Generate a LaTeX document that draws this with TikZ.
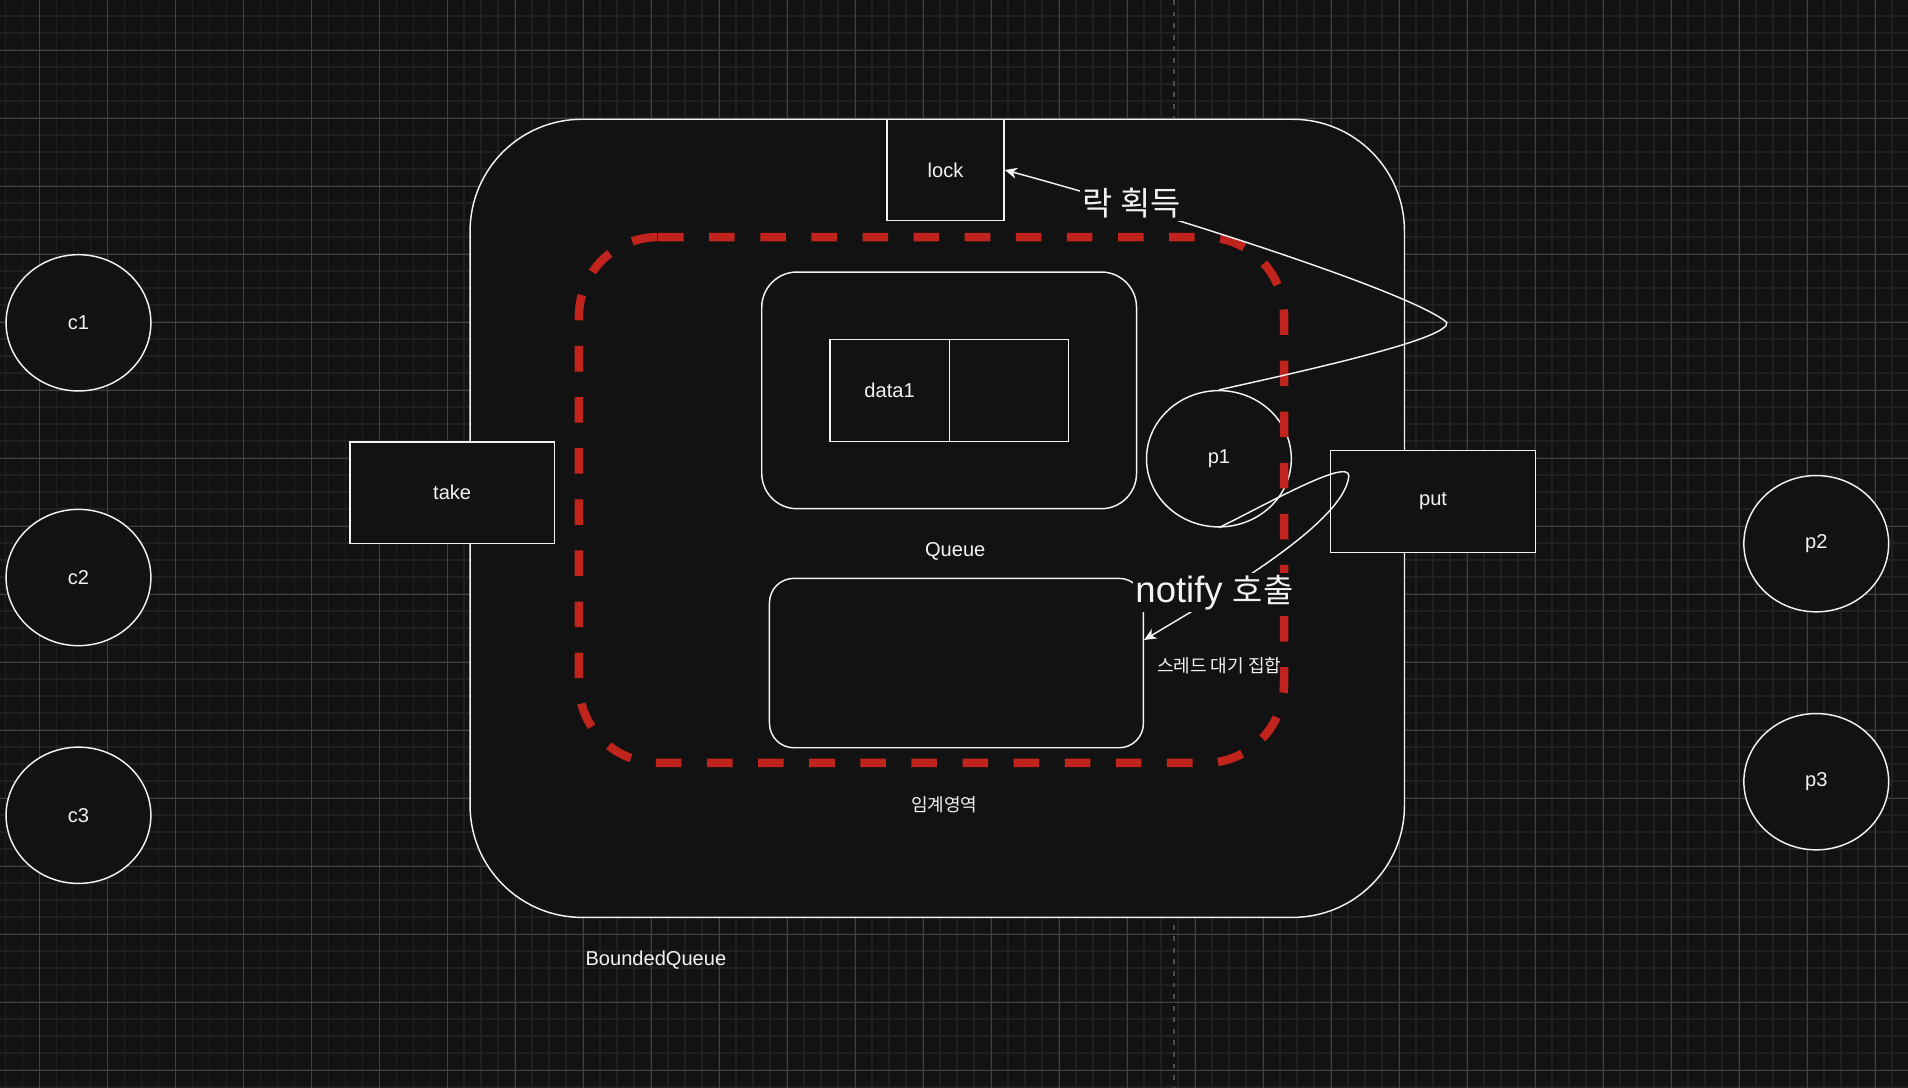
\documentclass[tikz,border=0pt]{standalone}
\usepackage{fontspec}
\setmainfont{Liberation Sans}
\newfontfamily\kr[Scale=0.9]{Noto Sans CJK KR}
\usetikzlibrary{arrows.meta,shapes.geometric}

\definecolor{bg}{HTML}{121212}
\definecolor{fg}{HTML}{F2F2F2}
\definecolor{minorgrid}{HTML}{202020}
\definecolor{majorgrid}{HTML}{404040}
\definecolor{pageline}{HTML}{4D4D4D}
\definecolor{critred}{RGB}{192,36,28}

\newcommand{\txtsmall}{\fontsize{16.5}{19}\selectfont}
\newcommand{\txtbig}{\fontsize{30}{34}\selectfont}

\begin{document}
\begin{tikzpicture}[x=1pt,y=-1pt]

\tikzset{
  BoxStyle/.style = { rectangle, draw = fg, fill = bg, line width = 1.2pt,
                      inner sep = 0pt, text = fg, font = \txtsmall },
  RoundStyle/.style = { BoxStyle, rounded corners = #1 },
  ThreadStyle/.style = { ellipse, draw = fg, fill = bg, line width = 1.2pt,
                         minimum width = 119pt, minimum height = 112pt,
                         inner sep = 0pt, text = fg, font = \txtsmall },
  LabelStyle/.style = { text = fg, font = \txtsmall, inner sep = 1pt },
  BigLabelStyle/.style = { text = fg, font = \txtbig, fill = bg, inner sep = 2pt },
  EdgeStyle/.style = { draw = fg, line width = 1.2pt,
                       -{Stealth[length = 10pt, width = 9pt, inset = 3pt]} },
  RegionStyle/.style = { draw = critred, line width = 7pt,
                         dash pattern = on 21pt off 21pt,
                         rounded corners = 65pt }
}

\useasboundingbox (0,0) rectangle (1568,894);
\fill[bg] (0,0) rectangle (1568,894);

% grid
\begin{scope}
  \clip (0,0) rectangle (1568,894);
  \begin{scope}[shift={(4.36,13.15)}]
    \draw[minorgrid, line width = 1.3pt, step = 13.97pt] (-20,900) grid (1580,-20);
  \end{scope}
  \begin{scope}[shift={(32.3,41.1)}]
    \draw[majorgrid, line width = 0.8pt, step = 55.89pt] (-60,900) grid (1580,-60);
  \end{scope}
  \draw[pageline, line width = 1.6pt, dash pattern = on 4pt off 5.5pt] (964.8,0) -- (964.8,894);
\end{scope}

% BoundedQueue
\node[RoundStyle = 92pt, minimum width = 767.9pt, minimum height = 655.9pt] (bq) at (770.25, 425.95) {};
\node[BoxStyle, minimum width = 96.3pt, minimum height = 83.4pt] (lock) at (777, 139.7) {lock};
\node[BoxStyle, minimum width = 168pt, minimum height = 83.3pt] (take) at (371.6, 404.9) {take};
\node[BoxStyle, minimum width = 168.2pt, minimum height = 83.8pt] (put) at (1177.7, 412) {put};

\node[RoundStyle = 29pt, minimum width = 308pt, minimum height = 194.5pt] (queue) at (780, 320.8) {};
\node[BoxStyle, minimum width = 98.1pt, minimum height = 84.1pt] (data1) at (731.05, 320.95) {data1};
\node[BoxStyle, minimum width = 98.1pt, minimum height = 84.1pt] (slot2) at (829.15, 320.95) {};
\node[LabelStyle] (queuename) at (785, 453.5) {Queue};

\node[RoundStyle = 20pt, minimum width = 307.3pt, minimum height = 139.2pt] (waitset) at (786, 544.9) {};
\node[LabelStyle] (waitname) at (1002, 547) {\kr 스레드 대기 집합};

\node[ThreadStyle] (p1) at (1001.7, 377) {p1};

% critical section
\draw[RegionStyle] (540.8,194.8) -- (1055.2,194.8) -- (1055.2,627) -- (475.8,627)
  -- (475.8,194.8) -- (540.8,194.8);
\node[LabelStyle] (critname) at (776, 661.5) {\kr 임계영역};
\node[LabelStyle] (bqname) at (539, 789) {BoundedQueue};

% consumers and producers
\node[ThreadStyle] (c1) at (64.5, 265.3) {c1};
\node[ThreadStyle] (c2) at (64.5, 474.6) {c2};
\node[ThreadStyle] (c3) at (64.5, 670) {c3};
\node[ThreadStyle] (p2) at (1492.6, 446.8) {p2};
\node[ThreadStyle] (p3) at (1492.6, 642.4) {p3};

% p1 -> lock, p1 -> wait set
\coordinate (turn1) at (1189, 265);
\coordinate (turn2) at (1108.5, 391);
\draw[EdgeStyle] (p1.north) .. controls (1080,303) and (1192,278) .. (turn1)
  .. controls (1160,240) and (956,175) .. (lock.east);
\draw[EdgeStyle] (p1.south) .. controls (1040,415) and (1108,376) .. (turn2)
  .. controls (1105,430) and (1000,490) .. ([yshift=19pt]waitset.east);

\node[BigLabelStyle] (lockmsg) at (930, 167.3) {\kr 락 획득};
\node[BigLabelStyle] (notifymsg) at (998, 487) {notify {\kr 호출}};

\end{tikzpicture}
\end{document}
